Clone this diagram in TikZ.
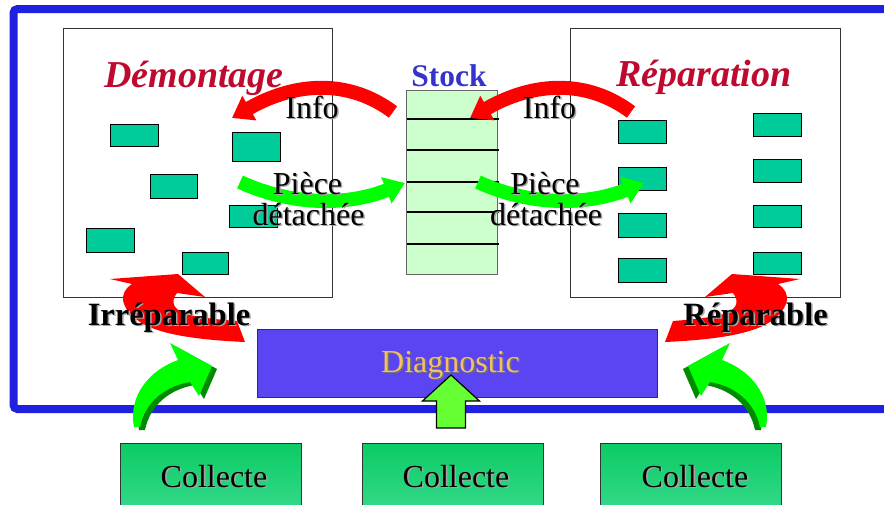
\documentclass[tikz,border=0pt]{standalone}
\usepackage{fontspec}
\setmainfont{Liberation Serif}
\usetikzlibrary{arrows.meta}
\definecolor{frameblue}{HTML}{2020E0}
\definecolor{titlered}{HTML}{BF0A30}
\definecolor{stockblue}{HTML}{3434CC}
\definecolor{tealbox}{HTML}{00CC99}
\definecolor{stockfill}{HTML}{CCFFCC}
\definecolor{diagfill}{HTML}{5B45F2}
\definecolor{diagtext}{HTML}{F2C060}
\definecolor{upgreen}{HTML}{66FF33}
\definecolor{colltop}{HTML}{0BCB64}
\definecolor{collbot}{HTML}{3ADB8E}
\definecolor{brightgreen}{HTML}{00FF00}
\definecolor{darkgreen3d}{HTML}{008A00}
\definecolor{infored}{HTML}{FF0000}
\newcommand\shad[2][black!35]{\makebox[0pt][l]{\hspace{1.5pt}\raisebox{-1.5pt}{\textcolor{#1}{#2}}}#2}
\tikzset{
  frameline/.style={draw=frameblue, line width=8pt, rounded corners=4pt},
  boxframe/.style={draw=black!80, line width=0.9pt, fill=white, inner sep=0pt, anchor=north west},
  stockbox/.style={draw=black!60, line width=0.9pt, fill=stockfill, inner sep=0pt, anchor=north west},
  stockline/.style={draw=black, line width=1.5pt},
  tealrect/.style={draw=black, line width=0.9pt, fill=tealbox},
  band/.style={line width=14pt},
  headtip/.style={-{Triangle[length=20pt,width=27pt]}},
  diagbox/.style={draw=black!80, line width=0.9pt, fill=diagfill, inner sep=0pt, anchor=north west},
  collbox/.style={draw=black!80, line width=0.9pt, top color=colltop, bottom color=collbot, inner sep=0pt, anchor=north west, minimum width=181pt, minimum height=75pt},
  uparrow/.style={draw=black, line width=1.2pt, fill=upgreen, line join=miter},
  lbl/.style={inner sep=0pt, anchor=base, font=\fontsize{32}{32}\selectfont},
  boldlbl/.style={inner sep=0pt, anchor=base, font=\fontsize{32.5}{32.5}\selectfont\bfseries},
  titlelbl/.style={inner sep=0pt, anchor=base, text=titlered, font=\fontsize{38}{38}\selectfont\bfseries\itshape},
  stocklbl/.style={inner sep=0pt, anchor=base, text=stockblue, font=\fontsize{31.5}{31.5}\selectfont\bfseries},
  redcurl/.pic={
    \fill[infored] (245,342) .. controls (200,340) and (160,335) .. (140,322)
      .. controls (120,308) and (118,293) .. (132,284) -- (110,279) -- (178,274)
      -- (205,297) -- (177,293) .. controls (170,302) and (172,312) .. (195,316)
      .. controls (210,319) and (225,320) .. (237,321) -- cycle;
  },
  greencurve/.pic={
    \fill[darkgreen3d, shift={(5,3)}] (134,427) .. controls (128,395) and (150,370) .. (178,360)
      -- (170,343) -- (212,366) -- (199,396) -- (190,382)
      .. controls (165,386) and (145,402) .. (140,427) -- cycle;
    \fill[brightgreen] (134,427) .. controls (128,395) and (150,370) .. (178,360)
      -- (170,343) -- (212,366) -- (199,396) -- (190,382)
      .. controls (165,386) and (145,402) .. (140,427) -- cycle;
  }
}
\begin{document}
\begin{tikzpicture}[x=1pt,y=-1pt]
\useasboundingbox (0,0) rectangle (884,504);
\clip (0,0) rectangle (884,504);
% frame
\draw[frameline] (900,9) -- (13.5,9) -- (13.5,409) -- (900,409);
% boxes
\node[boxframe, minimum width=269pt, minimum height=269pt] (demontage) at (63,28) {};
\node[boxframe, minimum width=270pt, minimum height=269pt] (reparation) at (570,28) {};
\node[stockbox, minimum width=91.5pt, minimum height=184pt] (stock) at (405.5,90) {};
\foreach \y in {119,150,182,212,244} \draw[stockline] (407,\y) -- (499,\y);
% small parts
\foreach \a/\b/\c/\d in {110/124/158/146, 232/132/280/161, 150/174/197/198, 229/205/277/227, 86/228/134/252, 182/252/228/274,
  618/120/666/143, 618/167/666/190, 618/213/666/237, 618/258/666/282, 753/113/801/136, 753/159/801/182, 753/205/801/227, 753/252/801/274}
  \draw[tealrect] (\a,\b) rectangle (\c,\d);
% info / piece arrows
\draw[band, infored, headtip] (393,112) .. controls (349.3,79.3) and (296,81.3) .. (232,118);
\draw[band, infored, headtip] (631,112) .. controls (587.3,79.3) and (534,81.3) .. (470,118);
\draw[band, brightgreen, headtip] (240,182) .. controls (291.7,205.7) and (346.7,206) .. (405,183);
\draw[band, brightgreen, headtip] (478,182) .. controls (529.7,205.7) and (584.7,206) .. (644,183);
% curled red arrows
\pic at (0,0) {redcurl};
\pic[xscale=-1] at (910,0) {redcurl};
% diagnostic
\node[diagbox, minimum width=400.5pt, minimum height=68pt] (diag) at (256.5,329) {};
% green curved arrows
\pic at (0,0) {greencurve};
\pic[xscale=-1] at (900,0) {greencurve};
% up arrow
\draw[uparrow] (436.5,428) -- (436.5,401) -- (422.5,401) -- (451,375) -- (479.5,401) -- (465.5,401) -- (465.5,428) -- cycle;
% collecte boxes
\node[collbox] (col1) at (120,443) {};
\node[collbox] (col2) at (362,443) {};
\node[collbox] (col3) at (600,443) {};
% texts
\node[titlelbl] (demtxt) at (194,87) {Démontage};
\node[titlelbl] (reptxt) at (704,86) {Réparation};
\node[stocklbl] (stocktxt) at (449,86) {Stock};
\node[lbl] (infoL) at (312,118) {\shad{Info}};
\node[lbl] (infoR) at (549.5,118) {\shad{Info}};
\node[lbl] (pieceL) at (307.5,194) {\shad{Pièce}};
\node[lbl] (detL) at (308.5,225) {\shad{détachée}};
\node[lbl] (pieceR) at (545,194) {\shad{Pièce}};
\node[lbl] (detR) at (546,225) {\shad{détachée}};
\node[boldlbl] (irrtxt) at (169,325) {\shad{Irréparable}};
\node[boldlbl] (reparabletxt) at (755.5,325) {\shad{Réparable}};
\node[lbl, text=diagtext] (diagtxt) at (450.5,372) {\shad[black!55]{Diagnostic}};
\node[lbl] (coltxt1) at (214,487) {\shad{Collecte}};
\node[lbl] (coltxt2) at (456,487) {\shad{Collecte}};
\node[lbl] (coltxt3) at (695,487) {\shad{Collecte}};
\end{tikzpicture}
\end{document}
